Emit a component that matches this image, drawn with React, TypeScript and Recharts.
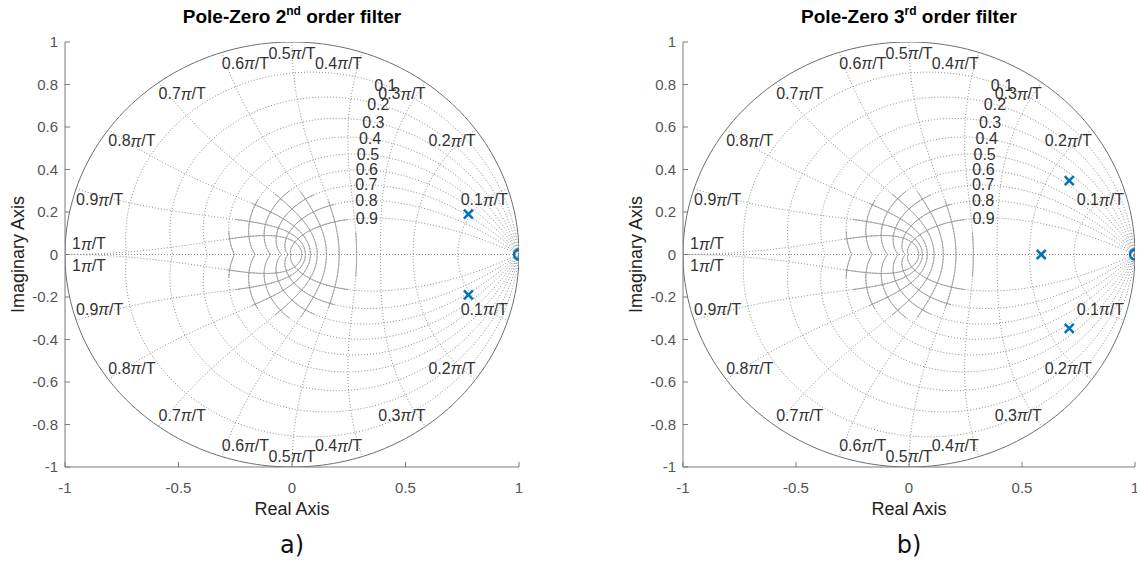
import React from 'react';
import { ComposedChart, Line, Scatter, XAxis, YAxis, Label } from 'recharts';

const X_TICKS = [-1, -0.5, 0, 0.5, 1];
const Y_TICKS = [-1, -0.8, -0.6, -0.4, -0.2, 0, 0.2, 0.4, 0.6, 0.8, 1];

// zgrid: damping ratios and natural frequencies (in units of pi/T)
const DAMPING = [0.1, 0.2, 0.3, 0.4, 0.5, 0.6, 0.7, 0.8, 0.9];
const NAT_FREQ = [0.1, 0.2, 0.3, 0.4, 0.5, 0.6, 0.7, 0.8, 0.9, 1];
const NAT_FREQ_TEXT = ['0.1', '0.2', '0.3', '0.4', '0.5', '0.6', '0.7', '0.8', '0.9', '1'];

const POLES_2ND = [
  { x: 0.777, y: 0.19 },
  { x: 0.777, y: -0.19 },
];
const ZEROS_2ND = [{ x: 1, y: 0 }];

const POLES_3RD = [
  { x: 0.709, y: 0.348 },
  { x: 0.585, y: 0 },
  { x: 0.709, y: -0.348 },
];
const ZEROS_3RD = [{ x: 1, y: 0 }];

const FONT = '"Liberation Sans", Arial, Helvetica, sans-serif';
const BLUE = '#0072BD';
const GRID = '#8c8c8c';
const BOX = '#7a7a7a';
const STEPS = 160;
const SOLID_R = 0.3;
const PLOT_LEFT = 65;

type Pt = { x: number; y: number | null };

// upper half, then back along the mirrored lower half
const closeMirror = (upper: Pt[]): Pt[] => [
  ...upper,
  ...upper
    .slice()
    .reverse()
    .map((p) => ({ x: p.x, y: -(p.y as number) })),
];

const dampingCurve = (z: number): Pt[] => {
  const s = Math.sqrt(1 - z * z);
  const upper: Pt[] = [];
  for (let i = 0; i <= STEPS; i++) {
    const th = (Math.PI * i) / STEPS;
    const r = Math.exp((-z * th) / s);
    upper.push({ x: r * Math.cos(th), y: r * Math.sin(th) });
  }
  return closeMirror(upper);
};

const freqCurve = (k: number): Pt[] => {
  const w = k * Math.PI;
  const upper: Pt[] = [];
  for (let i = 0; i <= STEPS; i++) {
    const phi = (Math.PI / 2) * (i / STEPS);
    const z = Math.sin(phi);
    const r = Math.exp(-z * w);
    const th = w * Math.cos(phi);
    upper.push({ x: r * Math.cos(th), y: r * Math.sin(th) });
  }
  return closeMirror(upper);
};

const GRID_CURVES: Pt[][] = [
  ...DAMPING.map(dampingCurve),
  ...NAT_FREQ.map(freqCurve),
  [
    { x: -1, y: 0 },
    { x: 1, y: 0 },
  ],
];

// dense parts near the origin render as solid lines
const SOLID_CURVES: Pt[][] = GRID_CURVES.slice(0, -1).map((pts) =>
  pts.map((p) => (Math.hypot(p.x, p.y as number) <= SOLID_R ? p : { x: p.x, y: null }))
);

const UNIT_CIRCLE: Pt[] = Array.from({ length: 241 }, (_, i) => {
  const a = (2 * Math.PI * i) / 240;
  return { x: Math.cos(a), y: Math.sin(a) };
});

const DAMPING_LABELS = DAMPING.map((z) => {
  const w = 0.35 * Math.PI;
  const r = Math.exp(-z * w);
  const th = w * Math.sqrt(1 - z * z);
  return { x: r * Math.cos(th), y: r * Math.sin(th), text: String(z) };
});

const FREQ_LABELS = NAT_FREQ.flatMap((k, i) => {
  const a = k * Math.PI;
  const anchor = k < 0.5 ? 'end' : k > 0.5 ? 'start' : 'middle';
  const off = k === 1 ? -11 : 11;
  const dx = k === 1 ? 7 : 0;
  const text = NAT_FREQ_TEXT[i];
  return [
    { x: Math.cos(a), y: Math.sin(a), text, anchor, dy: off, dx },
    { x: Math.cos(a), y: -Math.sin(a), text, anchor, dy: -off, dx },
  ];
});

const FreqText = (p: any) => {
  const d = p.payload ?? p;
  return (
    <text
      x={p.cx + d.dx}
      y={p.cy + d.dy}
      textAnchor={d.anchor}
      dominantBaseline="central"
      fontSize={16}
      fontFamily={FONT}
      fill="#333"
    >
      {d.text}
      <tspan fontStyle="italic">π</tspan>/T
    </text>
  );
};

const DampText = (p: any) => {
  const d = p.payload ?? p;
  return (
    <text x={p.cx} y={p.cy} textAnchor="middle" dominantBaseline="central" fontSize={16} fontFamily={FONT} fill="#333">
      {d.text}
    </text>
  );
};

const PoleMark = (p: any) => {
  const s = 4.5;
  return (
    <g stroke={BLUE} strokeWidth={2.5}>
      <line x1={p.cx - s} y1={p.cy - s} x2={p.cx + s} y2={p.cy + s} />
      <line x1={p.cx - s} y1={p.cy + s} x2={p.cx + s} y2={p.cy - s} />
    </g>
  );
};

const ZeroMark = (p: any) => (
  <circle cx={p.cx} cy={p.cy} r={5} fill="none" stroke={BLUE} strokeWidth={2.5} />
);

interface PlotProps {
  left: number;
  plotW: number;
  title: React.ReactNode;
  caption: string;
  poles: { x: number; y: number }[];
  zeros: { x: number; y: number }[];
}

function PoleZeroPlot({ left, plotW, title, caption, poles, zeros }: PlotProps) {
  const width = PLOT_LEFT + plotW + 12;
  const tickStyle = { fill: '#555', fontSize: 15, fontFamily: FONT };
  return (
    <div style={{ position: 'absolute', left, top: 0, width, height: 563 }}>
      <div
        style={{
          position: 'absolute',
          left: PLOT_LEFT,
          top: 5,
          width: plotW,
          textAlign: 'center',
          fontFamily: FONT,
          fontWeight: 'bold',
          fontSize: 19,
          lineHeight: '24px',
          whiteSpace: 'nowrap',
          color: '#000',
        }}
      >
        {title}
      </div>
      <ComposedChart width={width} height={527} margin={{ top: 42, right: 12, bottom: 0, left: 9 }}>
        <XAxis
          type="number"
          dataKey="x"
          domain={[-1, 1]}
          ticks={X_TICKS}
          interval={0}
          allowDataOverflow
          height={60}
          tickSize={-5}
          tickMargin={20}
          stroke={BOX}
          tick={tickStyle}
        >
          <Label value="Real Axis" position="insideBottom" offset={12} style={{ fill: '#222', fontSize: 18, fontFamily: FONT }} />
        </XAxis>
        <XAxis
          xAxisId="top"
          orientation="top"
          type="number"
          domain={[-1, 1]}
          ticks={X_TICKS}
          interval={0}
          allowDataOverflow
          height={0}
          tickSize={-5}
          tick={false}
          stroke={BOX}
        />
        <YAxis
          type="number"
          dataKey="y"
          domain={[-1, 1]}
          ticks={Y_TICKS}
          interval={0}
          allowDataOverflow
          width={56}
          tickSize={-5}
          tickMargin={12}
          stroke={BOX}
          tick={tickStyle}
        >
          <Label
            value="Imaginary Axis"
            angle={-90}
            position="insideLeft"
            offset={9}
            style={{ textAnchor: 'middle', fill: '#222', fontSize: 18, fontFamily: FONT }}
          />
        </YAxis>
        <YAxis
          yAxisId="right"
          orientation="right"
          type="number"
          domain={[-1, 1]}
          ticks={Y_TICKS}
          interval={0}
          allowDataOverflow
          width={0}
          tickSize={-5}
          tick={false}
          stroke={BOX}
        />

        {GRID_CURVES.map((pts, i) => (
          <Line
            key={`grid-${i}`}
            data={pts}
            dataKey="y"
            type="linear"
            stroke={GRID}
            strokeWidth={1}
            strokeDasharray="1 2"
            dot={false}
            activeDot={false}
            legendType="none"
            isAnimationActive={false}
          />
        ))}
        {SOLID_CURVES.map((pts, i) => (
          <Line
            key={`core-${i}`}
            data={pts}
            dataKey="y"
            type="linear"
            stroke="#939393"
            strokeWidth={0.9}
            dot={false}
            activeDot={false}
            legendType="none"
            isAnimationActive={false}
          />
        ))}
        <Line
          data={UNIT_CIRCLE}
          dataKey="y"
          type="linear"
          stroke="#6e6e6e"
          strokeWidth={1}
          dot={false}
          activeDot={false}
          legendType="none"
          isAnimationActive={false}
        />
        <Scatter data={DAMPING_LABELS} dataKey="y" shape={DampText} legendType="none" isAnimationActive={false} />
        <Scatter data={FREQ_LABELS} dataKey="y" shape={FreqText} legendType="none" isAnimationActive={false} />
        <Scatter data={poles} dataKey="y" shape={PoleMark} legendType="none" isAnimationActive={false} />
        <Scatter data={zeros} dataKey="y" shape={ZeroMark} legendType="none" isAnimationActive={false} />
      </ComposedChart>
      <div
        style={{
          position: 'absolute',
          left: PLOT_LEFT,
          top: 530,
          width: plotW,
          textAlign: 'center',
          fontFamily: '"DejaVu Sans", Verdana, sans-serif',
          fontSize: 24,
          lineHeight: '30px',
          color: '#111',
        }}
      >
        {caption}
      </div>
    </div>
  );
}

const sup = { fontSize: 12, position: 'relative' as const, top: -8 };

export default function App() {
  return (
    <div
      style={{
        position: 'absolute',
        left: 0,
        top: 0,
        width: 1137,
        height: 563,
        overflow: 'hidden',
        background: '#fff',
      }}
    >
      <PoleZeroPlot
        left={0}
        plotW={454}
        title={
          <>
            Pole-Zero 2<span style={sup}>nd</span> order filter
          </>
        }
        caption="a)"
        poles={POLES_2ND}
        zeros={ZEROS_2ND}
      />
      <PoleZeroPlot
        left={618}
        plotW={452}
        title={
          <>
            Pole-Zero 3<span style={sup}>rd</span> order filter
          </>
        }
        caption="b)"
        poles={POLES_3RD}
        zeros={ZEROS_3RD}
      />
    </div>
  );
}
